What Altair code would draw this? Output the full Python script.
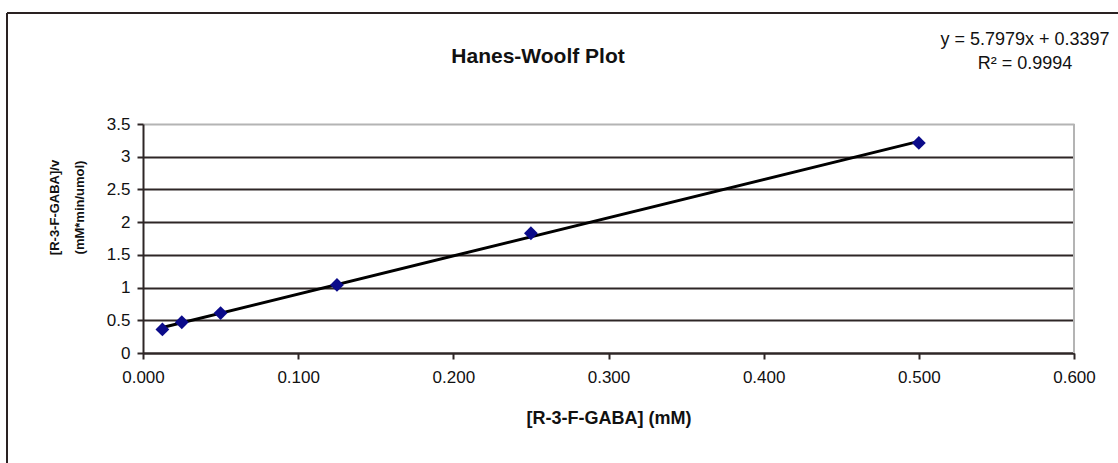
import altair as alt
import pandas as pd

# Data
conc_mM = [0.0125, 0.025, 0.05, 0.125, 0.25, 0.5]
s_over_v = [0.36, 0.47, 0.61, 1.04, 1.83, 3.21]

x_ticks = [0.0, 0.1, 0.2, 0.3, 0.4, 0.5, 0.6]
y_ticks = [0.0, 0.5, 1.0, 1.5, 2.0, 2.5, 3.0, 3.5]

title_text = ["Hanes-Woolf Plot"]
equation_lines = ["y = 5.7979x + 0.3397", "R² = 0.9994"]
x_title = "[R-3-F-GABA] (mM)"
y_title = ["[R-3-F-GABA]/v", "(mM*min/umol)"]

W, H = 931, 229
FONT = "Liberation Sans"
GRID = "#2e2626"

df = pd.DataFrame({"x": conc_mM, "y": s_over_v})

xs = alt.Scale(domain=[0, 0.6], nice=False, zero=True)
ys = alt.Scale(domain=[0, 3.5], nice=False, zero=True)

x_axis = alt.Axis(
    values=x_ticks, format=".3f", grid=False, title=x_title,
    labelFlush=False, labelOverlap=False,
    domainColor=GRID, domainWidth=2, tickColor=GRID, tickWidth=2, tickSize=6,
    labelFont=FONT, labelFontSize=17, labelColor="#111", labelPadding=10,
    titleFont=FONT, titleFontSize=18, titleFontWeight="bold", titleColor="#111",
    titleY=65, titleBaseline="middle",
)
y_axis = alt.Axis(
    values=y_ticks, format="~g", grid=True, title=y_title,
    labelFlush=False, labelOverlap=False,
    gridColor=alt.condition("datum.value == 3.5", alt.value("#b4b4b4"), alt.value(GRID)),
    gridWidth=2,
    domainColor=GRID, domainWidth=2, tickColor=GRID, tickWidth=2, tickSize=6,
    labelFont=FONT, labelFontSize=17, labelColor="#111", labelPadding=7,
    titleFont=FONT, titleFontSize=13, titleFontWeight="bold", titleColor="#111",
    titleAngle=270, titleX=-89, titleY=83, titleBaseline="middle", titleLineHeight=25,
    titleAlign="center",
)

points = alt.Chart(df).mark_point(
    shape="diamond", filled=True, size=190, color="#0b0b8a", opacity=1
).encode(x=alt.X("x:Q", scale=xs, axis=x_axis), y=alt.Y("y:Q", scale=ys, axis=y_axis))

fit = alt.Chart(df).transform_regression("x", "y").mark_line(
    color="#000000", strokeWidth=3
).encode(x=alt.X("x:Q", scale=xs, axis=x_axis), y=alt.Y("y:Q", scale=ys, axis=y_axis))

right_border = alt.Chart(pd.DataFrame({"a": [0]})).mark_rule(
    color="#b4b4b4", strokeWidth=2
).encode(x=alt.value(W), y=alt.value(0), y2=alt.value(H))

frame_top = alt.Chart(pd.DataFrame({"a": [0]})).mark_rule(
    color="#2a2222", strokeWidth=2
).encode(x=alt.value(-136), x2=alt.value(1000), y=alt.value(-111))
frame_left = alt.Chart(pd.DataFrame({"a": [0]})).mark_rule(
    color="#2a2222", strokeWidth=2
).encode(x=alt.value(-136), y=alt.value(-111), y2=alt.value(400))

title = alt.Chart(pd.DataFrame({"t": title_text})).mark_text(
    font=FONT, fontSize=21, fontWeight="bold", color="#111", align="center", baseline="middle"
).encode(x=alt.value(395), y=alt.value(-67), text="t:N")

eq = alt.Chart(pd.DataFrame({"t": [equation_lines]})).mark_text(
    font=FONT, fontSize=18, color="#111", align="center", baseline="top", lineHeight=24
).encode(x=alt.value(882), y=alt.value(-93), text="t:N")

chart = alt.layer(
    frame_top, frame_left, fit, points, right_border, title, eq
).properties(
    width=W, height=H,
    autosize=alt.AutoSizeParams(type="none"),
    padding={"left": 143, "top": 124, "right": 44, "bottom": 110},
    background="white",
).configure_view(stroke=None)

chart.save("out.html", embed_options={"renderer": "svg", "actions": False})
